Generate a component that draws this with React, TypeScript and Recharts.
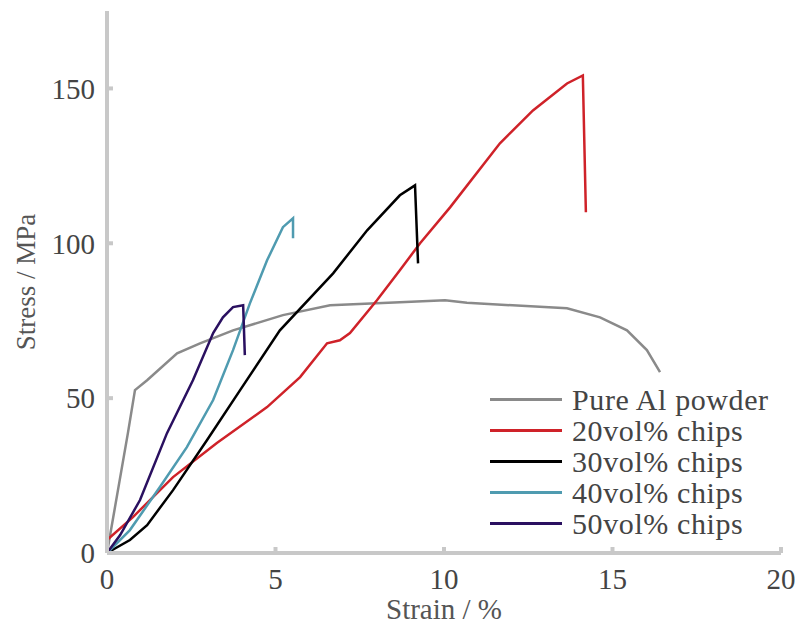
import { LineChart, Line, XAxis, YAxis, Legend } from "recharts";

const pureAl = [
  { x: 0, y: 0 }, { x: 0.62, y: 38.7 }, { x: 0.83, y: 52.6 }, { x: 1.19, y: 55.8 },
  { x: 2.08, y: 64.5 }, { x: 2.76, y: 67.7 }, { x: 3.74, y: 71.9 }, { x: 5.22, y: 76.8 },
  { x: 6.62, y: 80.0 }, { x: 8.69, y: 81.0 }, { x: 10.03, y: 81.6 }, { x: 10.68, y: 80.8 },
  { x: 13.65, y: 79.0 }, { x: 14.63, y: 76.1 }, { x: 15.43, y: 71.9 }, { x: 16.02, y: 65.5 },
  { x: 16.41, y: 58.4 },
];
const chips20 = [
  { x: 0, y: 4.2 }, { x: 0.77, y: 11.6 }, { x: 1.96, y: 24.5 }, { x: 3.26, y: 35.5 },
  { x: 4.75, y: 47.1 }, { x: 5.73, y: 56.8 }, { x: 6.53, y: 67.7 }, { x: 6.91, y: 68.7 },
  { x: 7.21, y: 71.0 }, { x: 8.01, y: 81.6 }, { x: 8.69, y: 91.3 }, { x: 9.29, y: 100 },
  { x: 10.18, y: 111.6 }, { x: 11.66, y: 132.3 }, { x: 12.64, y: 142.9 }, { x: 13.65, y: 151.6 },
  { x: 14.12, y: 154.2 }, { x: 14.21, y: 110 },
];
const chips30 = [
  { x: 0, y: 0 }, { x: 0.68, y: 4.2 }, { x: 1.19, y: 9 }, { x: 1.96, y: 20.3 },
  { x: 2.97, y: 36.5 }, { x: 3.95, y: 52.6 }, { x: 5.13, y: 71.9 }, { x: 6.71, y: 90.3 },
  { x: 7.72, y: 104.2 }, { x: 8.69, y: 115.5 }, { x: 9.14, y: 118.7 }, { x: 9.23, y: 93.5 },
];
const chips40 = [
  { x: 0, y: 0 }, { x: 0.68, y: 7.4 }, { x: 1.57, y: 21.3 }, { x: 2.37, y: 34.2 },
  { x: 3.15, y: 49.4 }, { x: 3.74, y: 65.5 }, { x: 4.24, y: 80.6 }, { x: 4.75, y: 94.5 },
  { x: 5.22, y: 105.2 }, { x: 5.52, y: 108.1 }, { x: 5.52, y: 101.6 },
];
const chips50 = [
  { x: 0, y: 0 }, { x: 0.39, y: 5.8 }, { x: 0.98, y: 17.1 }, { x: 1.78, y: 38.7 },
  { x: 2.55, y: 55.8 }, { x: 3.15, y: 71 }, { x: 3.44, y: 76.1 }, { x: 3.74, y: 79.4 },
  { x: 4.04, y: 80 }, { x: 4.09, y: 63.9 },
];

const seriesOrder = ["Pure Al powder", "20vol% chips", "30vol% chips", "40vol% chips", "50vol% chips"];
const xTicks = [0, 5, 10, 15, 20];
const yTicks = [0, 50, 100, 150];

const font = "Liberation Serif";
const tickStyle = { fontFamily: font, fontSize: 29, fill: "#444" };

// keep legend rows in the original series order
const renderLegend = (props: any) => {
  const items = [...props.payload].sort(
    (a: any, b: any) => seriesOrder.indexOf(a.value) - seriesOrder.indexOf(b.value)
  );
  return (
    <div style={{ fontFamily: font, fontSize: 30, color: "#444", letterSpacing: 0.6 }}>
      {items.map((p: any) => (
        <div key={p.value} style={{ display: "flex", alignItems: "center", height: 31 }}>
          <div style={{ width: 72, height: 3, background: p.color, marginRight: 10 }} />
          <span style={{ whiteSpace: "nowrap" }}>{p.value}</span>
        </div>
      ))}
    </div>
  );
};

export default function App() {
  return (
    <div style={{ fontFamily: font }}>
      <LineChart width={795} height={620} margin={{ top: 3, right: 22, left: 0, bottom: 0 }}>
        <XAxis
          type="number"
          dataKey="x"
          domain={[0, 20]}
          ticks={xTicks}
          height={75}
          stroke="#c8c8c8"
          strokeWidth={4}
          tickSize={-6}
          tickMargin={21}
          tick={tickStyle}
          label={{ value: "Strain / %", position: "insideBottom", offset: 9, style: { ...tickStyle, fill: "#555" } }}
        />
        <XAxis xAxisId="top" orientation="top" type="number" domain={[0, 20]} tick={false} tickLine={false} stroke="#a0a0a0" strokeWidth={3} height={0} />
        <YAxis
          type="number"
          dataKey="y"
          domain={[0, 175]}
          ticks={yTicks}
          width={99}
          stroke="#c8c8c8"
          strokeWidth={4}
          tickSize={-6}
          tickMargin={18}
          tick={tickStyle}
          label={{ value: "Stress / MPa", angle: -90, position: "insideLeft", offset: 17, style: { ...tickStyle, fontSize: 27, fill: "#555", textAnchor: "middle" } }}
        />
        <YAxis yAxisId="right" orientation="right" domain={[0, 175]} tick={false} tickLine={false} stroke="#d0d0d0" strokeWidth={4} width={0} />
        <Legend
          layout="vertical"
          align="center"
          verticalAlign="middle"
          content={renderLegend}
          wrapperStyle={{ left: 482, top: 376, width: 310 }}
        />
        <Line data={pureAl} dataKey="y" name="Pure Al powder" stroke="#8a8a8a" strokeWidth={2.5} dot={false} type="linear" isAnimationActive={false} />
        <Line data={chips20} dataKey="y" name="20vol% chips" stroke="#cf2229" strokeWidth={2.5} dot={false} type="linear" isAnimationActive={false} />
        <Line data={chips30} dataKey="y" name="30vol% chips" stroke="#000000" strokeWidth={2.5} dot={false} type="linear" isAnimationActive={false} />
        <Line data={chips40} dataKey="y" name="40vol% chips" stroke="#4f9bb0" strokeWidth={2.5} dot={false} type="linear" isAnimationActive={false} />
        <Line data={chips50} dataKey="y" name="50vol% chips" stroke="#2a1060" strokeWidth={2.5} dot={false} type="linear" isAnimationActive={false} />
      </LineChart>
    </div>
  );
}
